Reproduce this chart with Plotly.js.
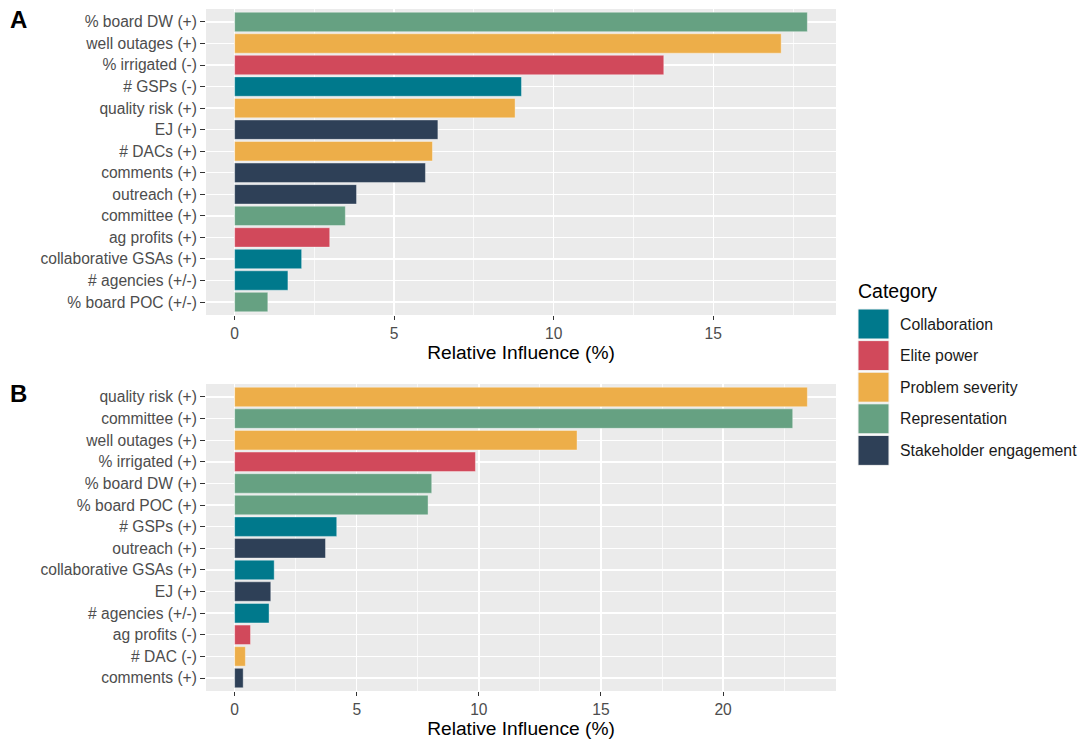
<!DOCTYPE html>
<html>
<head>
<meta charset="utf-8">
<script src="https://cdn.plot.ly/plotly-3.0.1.min.js"></script>
<style>html,body{margin:0;padding:0;background:#fff;}#chart{width:1081px;height:740px;}</style>
</head>
<body>
<div id="chart"></div>
<script>
// ---- Data ----
const categories = ['Collaboration', 'Elite power', 'Problem severity', 'Representation', 'Stakeholder engagement'];
const categoryColors = ['#00798c', '#d1495b', '#edae49', '#66a182', '#2e4057'];

const labelsA = ['% board DW (+)', 'well outages (+)', '% irrigated (-)', '# GSPs (-)', 'quality risk (+)', 'EJ (+)', '# DACs (+)', 'comments (+)', 'outreach (+)', 'committee (+)', 'ag profits (+)', 'collaborative GSAs (+)', '# agencies (+/-)', '% board POC (+/-)'];
const valuesA = [17.95, 17.13, 13.45, 8.99, 8.79, 6.37, 6.2, 5.98, 3.82, 3.47, 2.98, 2.1, 1.67, 1.04];
const catsA = ['Representation', 'Problem severity', 'Elite power', 'Collaboration', 'Problem severity', 'Stakeholder engagement', 'Problem severity', 'Stakeholder engagement', 'Stakeholder engagement', 'Representation', 'Elite power', 'Collaboration', 'Collaboration', 'Representation'];

const labelsB = ['quality risk (+)', 'committee (+)', 'well outages (+)', '% irrigated (+)', '% board DW (+)', '% board POC (+)', '# GSPs (+)', 'outreach (+)', 'collaborative GSAs (+)', 'EJ (+)', '# agencies (+/-)', 'ag profits (-)', '# DAC (-)', 'comments (+)'];
const valuesB = [23.45, 22.85, 14.02, 9.86, 8.07, 7.92, 4.18, 3.72, 1.62, 1.48, 1.41, 0.65, 0.44, 0.35];
const catsB = ['Problem severity', 'Representation', 'Problem severity', 'Elite power', 'Representation', 'Representation', 'Collaboration', 'Stakeholder engagement', 'Collaboration', 'Stakeholder engagement', 'Collaboration', 'Elite power', 'Problem severity', 'Stakeholder engagement'];

const xTitle = 'Relative Influence (%)';
const legendTitle = 'Category';
const panelLabels = ['A', 'B'];

// ---- Helpers ----
const colorOf = c => categoryColors[categories.indexOf(c)];
const FONT = 'Liberation Sans, Arial, Helvetica, sans-serif';
const W = 1081, H = 740;
const px = v => v / W;
const py = v => 1 - v / H;
const TICK_SIZE = 15.6;

function barTrace(labels, values, cats, xa, ya) {
  return {
    type: 'bar', orientation: 'h',
    x: values, y: labels,
    xaxis: xa, yaxis: ya,
    width: 0.9,
    marker: { color: cats.map(colorOf), line: { color: 'rgba(255,255,255,0.55)', width: 0.7 } },
    showlegend: false,
    hovertemplate: '%{y}: %{x:.2f}%<extra></extra>'
  };
}

function xAxis(values, anchor) {
  const mx = Math.max(...values);
  return {
    anchor: anchor, domain: [px(206), px(836)],
    range: [-0.05 * mx, mx * 1.05],
    tick0: 0, dtick: 5, ticks: 'outside', ticklen: 4, tickwidth: 1, tickcolor: '#333333',
    showgrid: true, gridcolor: '#ffffff', gridwidth: 1.4, zeroline: false, showline: false,
    minor: { tick0: 0, dtick: 2.5, showgrid: true, gridcolor: '#ffffff', gridwidth: 0.7, ticks: '' },
    tickfont: { family: FONT, size: TICK_SIZE, color: '#4d4d4d' },
    title: { text: xTitle, font: { family: FONT, size: 19.2, color: '#000000' }, standoff: 3 },
    fixedrange: true
  };
}

function yAxis(labels, anchor, top, bottom) {
  return {
    anchor: anchor, domain: [py(bottom), py(top)],
    type: 'category', categoryorder: 'array', categoryarray: labels.slice().reverse(),
    range: [-0.6, labels.length - 0.4],
    ticks: 'outside', ticklen: 5, tickwidth: 1, tickcolor: '#333333',
    showgrid: true, gridcolor: '#ffffff', gridwidth: 1.4, zeroline: false, showline: false,
    tickfont: { family: FONT, size: TICK_SIZE, color: '#4d4d4d' },
    automargin: false, fixedrange: true
  };
}

const data = [
  barTrace(labelsA, valuesA, catsA, 'x', 'y'),
  barTrace(labelsB, valuesB, catsB, 'x2', 'y2')
];

// ---- Legend (ggplot-style keys) ----
const shapes = [];
const annotations = [];
const keyTop0 = 309, keyStep = 31.6, keyH = 30, keyX0 = 858, keyX1 = 889;
categories.forEach((c, i) => {
  const t = keyTop0 + i * keyStep;
  shapes.push({ type: 'rect', xref: 'paper', yref: 'paper', x0: px(keyX0), x1: px(keyX1), y0: py(t + keyH), y1: py(t),
    fillcolor: categoryColors[i], line: { color: '#f2f2f2', width: 1 } });
  annotations.push({ xref: 'paper', yref: 'paper', x: px(898), y: py(t + keyH / 2), xanchor: 'left', yanchor: 'middle',
    text: c, showarrow: false, font: { family: FONT, size: 15.8, color: '#1a1a1a' } });
});
annotations.push({ xref: 'paper', yref: 'paper', x: px(856), y: py(291), xanchor: 'left', yanchor: 'middle',
  text: legendTitle, showarrow: false, font: { family: FONT, size: 19.5, color: '#000000' } });

// Panel labels
annotations.push({ xref: 'paper', yref: 'paper', x: px(8), y: py(20), xanchor: 'left', yanchor: 'middle',
  text: '<b>' + panelLabels[0] + '</b>', showarrow: false, font: { family: FONT, size: 24, color: '#000000' } });
annotations.push({ xref: 'paper', yref: 'paper', x: px(8), y: py(393), xanchor: 'left', yanchor: 'middle',
  text: '<b>' + panelLabels[1] + '</b>', showarrow: false, font: { family: FONT, size: 24, color: '#000000' } });

const layout = {
  width: W, height: H,
  margin: { l: 0, r: 0, t: 0, b: 0, pad: 0 },
  paper_bgcolor: '#ffffff', plot_bgcolor: '#ebebeb',
  font: { family: FONT },
  showlegend: false,
  bargap: 0.1,
  xaxis: xAxis(valuesA, 'y'),
  yaxis: yAxis(labelsA, 'x', 9, 315),
  xaxis2: xAxis(valuesB, 'y2'),
  yaxis2: yAxis(labelsB, 'x2', 384, 691),
  shapes: shapes,
  annotations: annotations
};

Plotly.newPlot('chart', data, layout, { displayModeBar: false, staticPlot: true });
</script>
</body>
</html>
